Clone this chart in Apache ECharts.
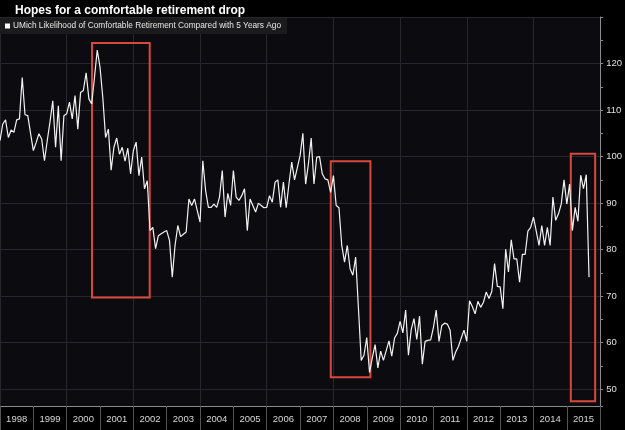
<!DOCTYPE html>
<html>
<head>
<meta charset="utf-8">
<script src="https://cdn.jsdelivr.net/npm/echarts@6/dist/echarts.min.js"></script>
<style>
  html, body { margin: 0; padding: 0; background: #000; }
  #chart { width: 625px; height: 430px; }
</style>
</head>
<body>
<div id="chart"></div>
<script>
// monthly readings, Jan 1998 .. Sep 2015
const startYear = 1998;
const retirementIndex = [
  103.4, 107.0, 107.9, 104.1, 105.7, 105.2, 107.9, 108.1, 117.0, 109.0, 108.8, 105.0,
  101.3, 103.0, 104.9, 103.8, 99.1, 103.4, 107.5, 112.0, 102.0, 110.9, 99.1, 108.8,
  109.2, 111.7, 108.1, 113.1, 105.9, 113.8, 114.2, 118.0, 112.4, 111.3, 117.0, 122.9,
  119.2, 112.7, 104.1, 105.9, 97.1, 102.0, 104.0, 100.5, 102.0, 99.0, 101.8, 96.3,
  101.3, 103.1, 95.9, 99.9, 93.1, 94.8, 84.1, 84.8, 80.2, 83.0, 83.4, 83.8,
  84.1, 82.0, 74.1, 80.9, 85.2, 82.8, 83.3, 83.8, 90.9, 89.5, 90.9, 88.4,
  85.9, 99.1, 92.7, 89.1, 89.1, 89.8, 89.1, 91.3, 97.0, 87.0, 92.1, 89.5,
  97.0, 91.3, 90.6, 91.6, 93.1, 84.1, 90.9, 89.5, 88.1, 90.0, 89.5, 89.0,
  89.1, 91.6, 90.2, 94.5, 95.0, 89.1, 94.5, 89.0, 94.1, 98.8, 95.0, 97.6,
  100.2, 105.0, 94.1, 98.4, 104.0, 94.1, 99.9, 100.0, 96.3, 95.2, 95.0, 92.3,
  95.9, 89.5, 89.0, 80.9, 77.3, 80.9, 75.9, 74.5, 78.4, 67.5, 56.2, 57.3,
  61.1, 53.6, 56.8, 59.6, 54.6, 58.2, 56.2, 58.3, 60.4, 57.1, 61.0, 62.0,
  64.6, 62.1, 67.0, 57.3, 62.8, 65.2, 60.7, 65.7, 55.4, 60.3, 60.5, 60.6,
  63.3, 67.0, 60.3, 63.7, 64.2, 64.0, 62.7, 56.2, 58.0, 59.2, 61.0, 62.7,
  60.3, 69.0, 67.8, 66.2, 68.9, 67.6, 68.7, 70.9, 69.5, 71.0, 77.0, 72.1,
  72.0, 67.3, 80.1, 75.2, 82.1, 78.0, 78.0, 73.0, 79.0, 79.0, 84.0, 84.8,
  87.0, 84.0, 80.9, 85.2, 80.9, 84.8, 80.9, 91.3, 86.3, 87.7, 89.8, 95.0,
  89.8, 94.1, 84.1, 89.1, 86.1, 96.0, 93.1, 96.1, 74.1
];
const yearLabels = ["1998", "1999", "2000", "2001", "2002", "2003", "2004", "2005", "2006",
  "2007", "2008", "2009", "2010", "2011", "2012", "2013", "2014", "2015"];
// highlighted periods: [from year, to year, low value, high value]
const highlightBoxes = [
  [2000.76, 2002.49, 69.7, 124.4],
  [2007.92, 2009.11, 52.6, 99.0],
  [2015.12, 2015.85, 47.4, 100.6]
];

const seriesData = retirementIndex.map((v, i) => [startYear + i / 12, v]);
const gridColor = "#26262c";
const axisColor = "#8a8a8a";
const font = "Liberation Sans";

const chart = echarts.init(document.getElementById("chart"));

chart.setOption({
  backgroundColor: "#000",
  animation: false,
  title: {
    text: "Hopes for a comfortable retirement drop",
    left: 10,
    top: 0,
    textStyle: { color: "#fff", fontSize: 12, fontWeight: "bold", fontFamily: font },
  },
  legend: {
    left: 0,
    top: 18,
    padding: [4, 6, 4, 5],
    backgroundColor: "#1b1b1d",
    icon: "rect",
    itemWidth: 5,
    itemHeight: 5,
    itemGap: 4,
    textStyle: { color: "#e6e6e6", fontSize: 8.3, fontFamily: font, padding: [0, 0, 0, -2] },
    data: ["UMich Likelihood of Comfortable Retirement Compared with 5 Years Ago"],
  },
  grid: {
    left: 0,
    right: 21,
    top: 17,
    bottom: 24,
    show: true,
    backgroundColor: "#0c0c10",
    borderWidth: 0,
  },
  xAxis: [
    {
      type: "value",
      min: 1998,
      max: 2016,
      interval: 2,
      axisLine: { show: false },
      axisTick: { show: false },
      axisLabel: { show: false },
      splitLine: { show: true, lineStyle: { color: gridColor, width: 1 } },
    },
    {
      type: "category",
      position: "bottom",
      data: yearLabels,
      boundaryGap: true,
      axisLine: { show: true, lineStyle: { color: axisColor, width: 1 } },
      axisTick: { show: true, interval: 0, length: 24, lineStyle: { color: "#555" } },
      axisLabel: { color: "#d8d8d8", fontSize: 9.5, fontFamily: font, margin: 8, interval: 0 },
      splitLine: { show: false },
    },
  ],
  yAxis: [
    {
      type: "value",
      position: "right",
      min: 46.4,
      max: 130,
      minInterval: 10,
      maxInterval: 10,
      axisLine: { show: true, lineStyle: { color: axisColor, width: 1 } },
      axisTick: { show: false },
      axisLabel: {
        color: "#e0e0e0",
        fontSize: 9.5,
        fontFamily: font,
        margin: 6,
        showMinLabel: false,
        showMaxLabel: false,
      },
      splitLine: { show: true, lineStyle: { color: gridColor, width: 1 } },
    },
    {
      type: "value",
      position: "right",
      min: 46.4,
      max: 130,
      minInterval: 5,
      maxInterval: 5,
      axisLine: { show: false },
      axisTick: { show: true, inside: false, length: 3, lineStyle: { color: axisColor } },
      axisLabel: { show: false },
      splitLine: { show: false },
    },
  ],
  series: [
    {
      name: "UMich Likelihood of Comfortable Retirement Compared with 5 Years Ago",
      type: "line",
      xAxisIndex: 0,
      yAxisIndex: 0,
      data: seriesData,
      symbol: "none",
      color: "#ffffff",
      lineStyle: { color: "#f2f2f2", width: 1.2 },
      markArea: {
        silent: true,
        itemStyle: { color: "rgba(0,0,0,0)", borderColor: "#d8483c", borderWidth: 2 },
        data: highlightBoxes.map((b) => [{ coord: [b[0], b[3]] }, { coord: [b[1], b[2]] }]),
      },
    },
  ],
});
</script>
</body>
</html>
